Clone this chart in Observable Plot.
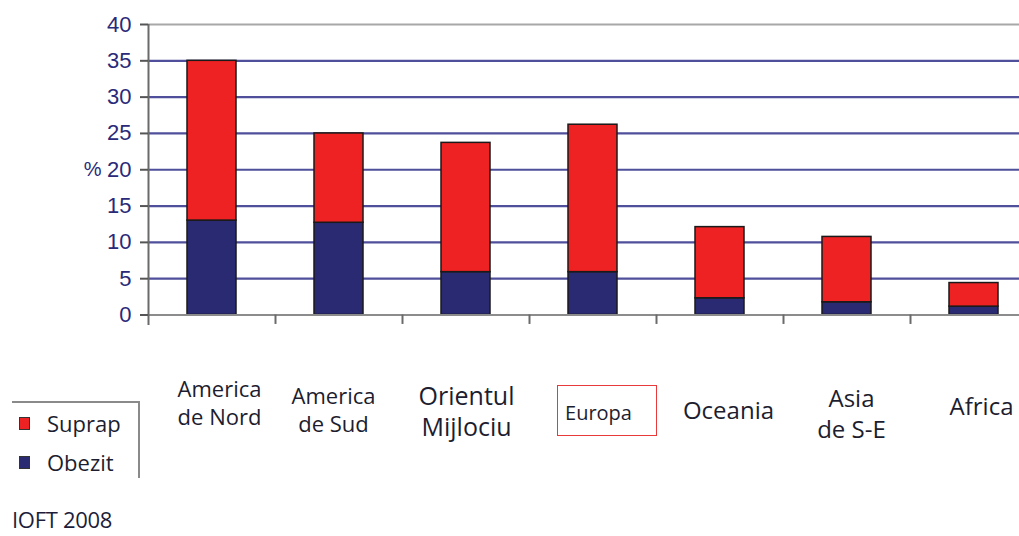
<!DOCTYPE html>
<html>
<head>
<meta charset="utf-8">
<script src="https://cdn.jsdelivr.net/npm/d3@7"></script>
<script src="https://cdn.jsdelivr.net/npm/@observablehq/plot@0.6"></script>
<style>
  html, body { margin: 0; padding: 0; background: #fff; }
  #wrap { position: relative; width: 1019px; height: 536px; overflow: hidden; font-family: "Open Sans", sans-serif; color: #1d1d30; }
  #wrap svg { position: absolute; left: 0; top: 0; }
  .legend-box { position: absolute; left: 12px; top: 401px; width: 126px; height: 75px; border-top: 2px solid #8a8a8a; border-right: 2px solid #8a8a8a; }
  .legend-item { position: absolute; left: 19px; font-size: 22px; line-height: 1; }
  .legend-item .sw { position: absolute; left: 0; top: 5px; width: 9px; height: 11px; border: 1px solid #333; }
  .legend-item span.t { position: absolute; left: 28px; top: 0; white-space: nowrap; }
  .caption { position: absolute; left: 12px; top: 506px; font-size: 22px; line-height: 26px; letter-spacing: -0.3px; color: #1d1d3a; white-space: nowrap; }
  .hl { position: absolute; left: 557px; top: 385px; width: 98px; height: 49px; border: 1.5px solid #e8393b; }
</style>
</head>
<body>
<div id="wrap"></div>
<script>
// Prevalence of overweight (Suprap) and obesity (Obezit) by world region, %
const categories = ["America de Nord", "America de Sud", "Orientul Mijlociu", "Europa", "Oceania", "Asia de S-E", "Africa"];
const tickLabels = ["America\nde Nord", "America\nde Sud", "Orientul\nMijlociu", "Europa", "Oceania", "Asia\nde S-E", "Africa"];
const obezit = [13, 12.7, 5.9, 5.9, 2.3, 1.75, 1.15];
const suprap = [22, 12.3, 17.8, 20.3, 9.8, 9.0, 3.25];
const seriesNames = ["Obezit", "Suprap"];
const yTicks = [0, 5, 10, 15, 20, 25, 30, 35, 40];
const caption = "IOFT 2008";

const colors = {Obezit: "#2a2a72", Suprap: "#ee2222"};

// Long-format table for stacking: obesity at the bottom, overweight on top
const rows = [];
categories.forEach((c, i) => {
  seriesNames.forEach(s => rows.push({region: c, series: s, value: s === "Obezit" ? obezit[i] : suprap[i]}));
});

// Per-label typesetting for the region names under the axis
const labelStyle = [
  {dx: 7.5, dy: 62, size: 22, lh: 1.27},
  {dx: -5.5, dy: 69, size: 22, lh: 1.27},
  {dx: 0.5, dy: 67.5, size: 25, lh: 1.24},
  {dx: 5.5, dy: 87.5, size: 20, lh: 1.2},
  {dx: 8.5, dy: 83.5, size: 24, lh: 1.2},
  {dx: 4.5, dy: 70, size: 24, lh: 1.29},
  {dx: 7.5, dy: 80, size: 24, lh: 1.2}
];

const xRange = [148, 1037];
const step = (xRange[1] - xRange[0]) / categories.length;

const labelMarks = categories.map((c, i) =>
  Plot.text([c], {
    x: d => d,
    y: 0,
    text: () => tickLabels[i],
    lineAnchor: "top",
    textAnchor: "middle",
    dx: labelStyle[i].dx,
    dy: labelStyle[i].dy,
    fontSize: labelStyle[i].size,
    lineHeight: labelStyle[i].lh,
    fontFamily: "Open Sans",
    fill: "#1d1d30"
  })
);

const chart = Plot.plot({
  width: 1019,
  height: 536,
  marginLeft: 148,
  marginRight: 0,
  marginTop: 24,
  marginBottom: 221.5,
  style: {background: "transparent", overflow: "visible"},
  x: {type: "band", domain: categories, range: xRange, paddingInner: 0.614, paddingOuter: 0.307, axis: null},
  y: {domain: [0, 40], axis: null},
  marks: [
    // horizontal gridlines
    Plot.ruleY(yTicks.filter(t => t > 0 && t < 40), {stroke: "#3c3c90", strokeWidth: 2.2, strokeOpacity: 0.9}),
    // top border of the plot area
    Plot.ruleY([40], {stroke: "#a8a8a8", strokeWidth: 2}),
    // stacked bars
    Plot.barY(rows, Plot.stackY({
      x: "region",
      y: "value",
      fill: d => colors[d.series],
      stroke: "#1a1a1a",
      strokeWidth: 1.5
    })),
    // category axis baseline
    Plot.ruleY([0], {stroke: "#8c8c8c", strokeWidth: 2}),
    // value axis line, at the left edge of the first band
    Plot.ruleX([categories[0]], {dx: -step / 2, y1: -1.45, y2: 40, stroke: "#6a6a6a", strokeWidth: 2}),
    // category separators below the baseline
    Plot.ruleX(categories.slice(1), {dx: -step / 2, y1: 0, y2: -1.3, stroke: "#6a6a6a", strokeWidth: 2}),
    // value axis with ticks
    Plot.axisY({
      ticks: yTicks,
      label: null,
      tickSize: 8,
      tickPadding: 9,
      tickFormat: d => String(d),
      fontSize: 22,
      fontFamily: "Liberation Sans, Arial, sans-serif",
      fill: "#2a2a78",
      stroke: "#555",
      strokeWidth: 2,
      style: {letterSpacing: "-1px"}
    }),
    Plot.text(["%"], {frameAnchor: "left", y: 20, text: d => d, dx: -47, textAnchor: "end", fontSize: 20, fontFamily: "Liberation Sans, Arial, sans-serif", fill: "#2a2a78"}),
    ...labelMarks
  ]
});

const wrap = document.getElementById("wrap");
wrap.appendChild(chart);

// highlight frame around the Europa label
const hl = document.createElement("div");
hl.className = "hl";
wrap.appendChild(hl);

// legend
const lb = document.createElement("div");
lb.className = "legend-box";
wrap.appendChild(lb);
[["Suprap", 412], ["Obezit", 451]].forEach(([name, top]) => {
  const it = document.createElement("div");
  it.className = "legend-item";
  it.style.top = top + "px";
  it.innerHTML = `<div class="sw" style="background:${colors[name]}"></div><span class="t">${name}</span>`;
  wrap.appendChild(it);
});

const cap = document.createElement("div");
cap.className = "caption";
cap.textContent = caption;
wrap.appendChild(cap);
</script>
</body>
</html>
